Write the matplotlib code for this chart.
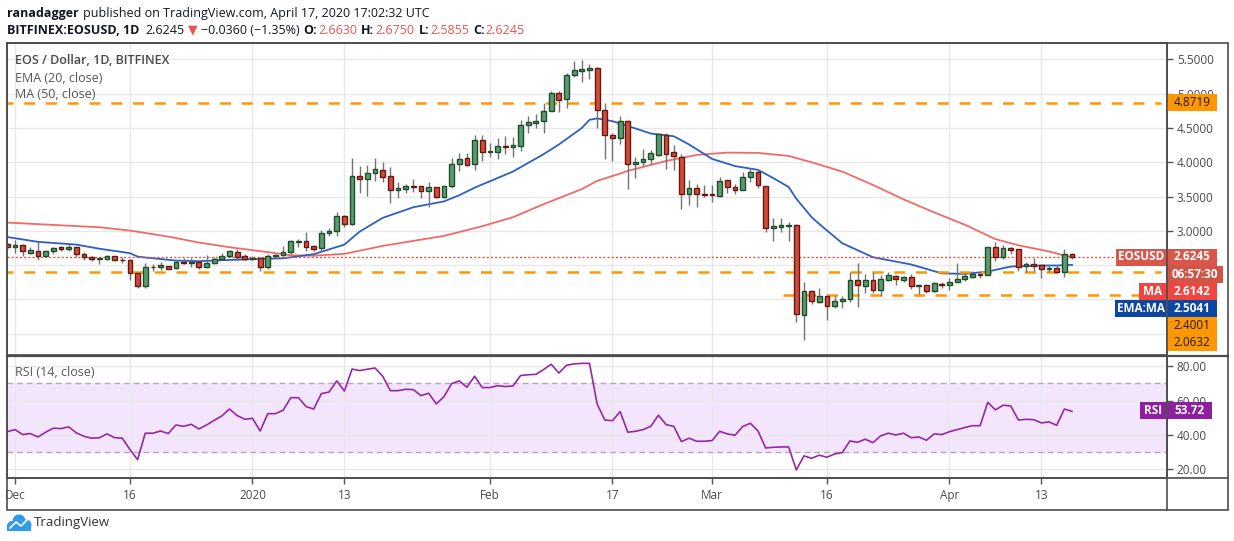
import matplotlib
matplotlib.use("Agg")
import matplotlib.pyplot as plt
import matplotlib.dates as mdates
import matplotlib.ticker as mticker
from matplotlib.patches import Rectangle, Circle
import numpy as np
import pandas as pd

plt.rcParams["font.family"] = ["Open Sans", "DejaVu Sans"]

# ---- data: EOS/USD daily, Bitfinex, 2019-11-30 .. 2020-04-17 ----
opens = [2.81,
    2.76, 2.79, 2.68, 2.70, 2.64, 2.70, 2.76, 2.73, 2.76, 2.67, 2.62, 2.59, 2.59, 2.63, 2.58, 2.57,
    2.38, 2.20, 2.48, 2.47, 2.49, 2.46, 2.55, 2.53, 2.55, 2.48, 2.53, 2.59, 2.63, 2.69, 2.64,
    2.59, 2.61, 2.47, 2.64, 2.65, 2.69, 2.845, 2.85, 2.776, 2.747, 2.976, 2.995, 3.214, 3.107, 3.797, 3.763,
    3.840, 3.884, 3.797, 3.603, 3.617, 3.651, 3.651, 3.578, 3.636, 3.491, 3.651, 3.972, 4.059, 3.972, 4.322,
    4.157, 4.157, 4.239, 4.220, 4.234, 4.540, 4.579, 4.599, 4.754, 5.007, 4.919, 5.269, 5.337, 5.352, 5.371,
    4.759, 4.395, 4.361, 4.599, 3.972, 4.001, 4.054, 4.113, 4.395, 4.147, 4.074, 3.535, 3.622, 3.535,
    3.540, 3.510, 3.738, 3.641, 3.603, 3.782, 3.855, 3.651, 3.048, 3.063, 3.078, 3.082, 1.771, 2.120, 1.970, 2.052,
    1.902, 1.975, 2.004, 2.281, 2.193, 2.281, 2.135, 2.291, 2.339, 2.291, 2.325, 2.193, 2.208, 2.121, 2.227,
    2.208, 2.261, 2.295, 2.334, 2.373, 2.354, 2.762, 2.621, 2.747, 2.733, 2.490, 2.514, 2.500, 2.441, 2.456, 2.397, 2.663]
highs = [2.84,
    2.87, 2.81, 2.76, 2.84, 2.72, 2.77, 2.78, 2.81, 2.77, 2.69, 2.64, 2.61, 2.65, 2.64, 2.62, 2.59,
    2.39, 2.53, 2.51, 2.55, 2.49, 2.57, 2.61, 2.60, 2.57, 2.65, 2.62, 2.68, 2.72, 2.73, 2.66,
    2.64, 2.62, 2.66, 2.67, 2.78, 2.87, 2.88, 2.985, 2.796, 3.015, 3.039, 3.282, 3.233, 4.059, 3.952, 3.962,
    4.059, 4.010, 3.928, 3.714, 3.690, 3.758, 3.655, 3.714, 3.640, 3.670, 4.059, 4.132, 4.132, 4.399, 4.399,
    4.278, 4.351, 4.385, 4.375, 4.613, 4.676, 4.701, 4.861, 5.041, 5.041, 5.308, 5.483, 5.498, 5.430, 5.396,
    4.861, 4.428, 4.676, 4.618, 4.079, 4.190, 4.176, 4.410, 4.424, 4.254, 4.118, 3.743, 3.680, 3.670,
    3.670, 3.787, 3.740, 3.680, 3.860, 3.923, 3.889, 3.655, 3.185, 3.185, 3.126, 3.107, 2.252, 2.135, 2.169, 2.072,
    2.057, 2.048, 2.402, 2.529, 2.373, 2.397, 2.358, 2.407, 2.358, 2.344, 2.373, 2.232, 2.223, 2.252, 2.252,
    2.320, 2.529, 2.368, 2.417, 2.383, 2.772, 2.840, 2.796, 2.767, 2.740, 2.548, 2.606, 2.500, 2.495, 2.505, 2.738, 2.675]
lows = [2.72,
    2.68, 2.64, 2.66, 2.57, 2.63, 2.67, 2.71, 2.71, 2.62, 2.57, 2.56, 2.51, 2.58, 2.56, 2.53, 2.28,
    2.16, 2.16, 2.41, 2.43, 2.44, 2.44, 2.51, 2.48, 2.45, 2.46, 2.52, 2.57, 2.62, 2.59, 2.58,
    2.58, 2.42, 2.44, 2.61, 2.63, 2.67, 2.76, 2.70, 2.70, 2.70, 2.927, 2.927, 3.063, 3.09, 3.554, 3.510,
    3.729, 3.719, 3.413, 3.486, 3.559, 3.564, 3.486, 3.355, 3.480, 3.480, 3.630, 3.879, 3.952, 3.894, 4.020,
    4.083, 4.054, 4.122, 4.074, 4.171, 4.433, 4.497, 4.433, 4.750, 4.740, 4.798, 5.250, 5.177, 5.216, 4.506,
    4.054, 4.020, 4.263, 3.617, 3.777, 3.952, 3.981, 4.098, 3.909, 3.889, 3.325, 3.379, 3.355, 3.501,
    3.428, 3.496, 3.559, 3.535, 3.600, 3.714, 3.632, 2.990, 2.859, 2.990, 2.859, 1.678, 1.416, 1.941, 1.946, 1.702,
    1.872, 1.873, 1.970, 1.897, 2.101, 2.091, 2.057, 2.276, 2.213, 2.261, 2.150, 2.086, 2.101, 2.111, 2.174,
    2.135, 2.252, 2.271, 2.320, 2.320, 2.350, 2.563, 2.592, 2.660, 2.417, 2.407, 2.417, 2.320, 2.397, 2.390, 2.334, 2.5855]
closes = [2.76,
    2.79, 2.70, 2.72, 2.64, 2.71, 2.75, 2.73, 2.77, 2.67, 2.62, 2.59, 2.60, 2.63, 2.57, 2.57, 2.38,
    2.20, 2.47, 2.47, 2.50, 2.45, 2.55, 2.53, 2.55, 2.48, 2.53, 2.59, 2.64, 2.71, 2.62, 2.59,
    2.61, 2.47, 2.64, 2.65, 2.69, 2.85, 2.855, 2.77, 2.742, 2.966, 2.995, 3.214, 3.107, 3.797, 3.763, 3.845,
    3.899, 3.792, 3.603, 3.622, 3.651, 3.641, 3.578, 3.636, 3.491, 3.651, 3.972, 4.045, 3.962, 4.322, 4.157,
    4.166, 4.234, 4.220, 4.254, 4.540, 4.584, 4.599, 4.754, 5.007, 4.905, 5.269, 5.347, 5.357, 5.371, 4.759,
    4.395, 4.361, 4.599, 3.972, 4.001, 4.045, 4.132, 4.409, 4.127, 4.088, 3.535, 3.622, 3.535, 3.520,
    3.530, 3.724, 3.636, 3.603, 3.782, 3.855, 3.666, 3.048, 3.068, 3.082, 3.087, 1.785, 2.120, 1.975, 2.052, 1.902,
    1.980, 2.009, 2.281, 2.208, 2.281, 2.135, 2.295, 2.354, 2.295, 2.325, 2.189, 2.208, 2.125, 2.237, 2.208,
    2.261, 2.300, 2.344, 2.373, 2.358, 2.762, 2.626, 2.747, 2.728, 2.480, 2.514, 2.490, 2.441, 2.461, 2.397, 2.6605, 2.6245]
rsi = [41.9,
    43.1, 40.2, 40.8, 38.8, 41.6, 43.9, 43.7, 44.7, 41.2, 39.2, 38.1, 38.3, 40.6, 38.4, 38.1, 31.5,
    25.6, 41.0, 41.0, 42.3, 40.8, 45.8, 45.0, 46.2, 43.5, 45.8, 48.5, 51.1, 55.1, 51.3, 49.1,
    49.7, 42.3, 52.4, 52.4, 54.4, 61.7, 61.7, 56.5, 55.1, 64.1, 65.0, 71.5, 65.6, 78.4, 77.5, 78.3,
    79.0, 74.2, 65.8, 65.8, 66.6, 66.4, 62.9, 64.3, 58.1, 62.3, 69.9, 71.5, 67.8, 74.2, 67.6,
    67.6, 68.7, 68.2, 68.5, 74.6, 75.1, 75.3, 78.1, 81.2, 76.1, 80.6, 81.4, 81.7, 81.7, 58.0,
    48.7, 48.3, 53.6, 41.6, 42.1, 43.1, 45.0, 51.5, 46.0, 45.0, 36.1, 38.1, 36.3, 36.3,
    36.7, 42.1, 40.6, 39.8, 44.9, 46.8, 42.3, 32.4, 32.8, 33.0, 33.0, 19.6, 27.8, 26.4, 28.2, 27.0,
    28.9, 29.7, 36.5, 35.7, 37.5, 35.5, 39.4, 41.0, 40.0, 41.0, 38.4, 38.8, 36.9, 40.6, 40.2,
    41.9, 43.1, 44.3, 45.4, 45.4, 59.0, 54.6, 57.3, 56.9, 48.7, 49.1, 48.9, 47.0, 47.6, 45.6, 55.1, 53.72]

ema_dates = ["2019-11-30", "2019-12-04", "2019-12-09", "2019-12-12", "2019-12-16", "2019-12-17", "2019-12-18",
    "2019-12-22", "2019-12-25", "2019-12-28", "2020-01-01", "2020-01-05", "2020-01-09", "2020-01-13",
    "2020-01-15", "2020-01-18", "2020-01-22", "2020-01-26", "2020-01-28", "2020-01-30", "2020-02-04",
    "2020-02-08", "2020-02-10", "2020-02-13", "2020-02-14", "2020-02-15", "2020-02-17", "2020-02-19",
    "2020-02-22", "2020-02-25", "2020-02-27", "2020-03-01", "2020-03-04", "2020-03-07", "2020-03-09",
    "2020-03-11", "2020-03-12", "2020-03-14", "2020-03-15", "2020-03-18", "2020-03-22", "2020-03-27",
    "2020-03-31", "2020-04-03", "2020-04-06", "2020-04-09", "2020-04-13", "2020-04-15", "2020-04-17"]
ema_vals = [2.91, 2.84, 2.80, 2.74, 2.675, 2.625, 2.612,
    2.567, 2.558, 2.572, 2.587, 2.60, 2.66, 2.80,
    2.99, 3.19, 3.345, 3.43, 3.52, 3.63, 3.865,
    4.118, 4.26, 4.50, 4.62, 4.64, 4.60, 4.53,
    4.42, 4.38, 4.26, 4.05, 3.945, 3.89, 3.77,
    3.64, 3.47, 3.20, 3.10, 2.82, 2.616, 2.51,
    2.38, 2.373, 2.407, 2.48, 2.495, 2.495, 2.5041]
ma_dates = ["2019-11-30", "2019-12-12", "2019-12-16", "2019-12-21", "2019-12-25", "2019-12-29", "2020-01-03",
    "2020-01-06", "2020-01-09", "2020-01-13", "2020-01-18", "2020-01-22", "2020-01-26", "2020-01-31",
    "2020-02-04", "2020-02-08", "2020-02-13", "2020-02-15", "2020-02-18", "2020-02-19", "2020-02-24",
    "2020-02-28", "2020-03-03", "2020-03-07", "2020-03-11", "2020-03-14", "2020-03-18", "2020-03-22",
    "2020-03-26", "2020-03-30", "2020-04-03", "2020-04-07", "2020-04-10", "2020-04-14", "2020-04-16",
    "2020-04-17"]
ma_vals = [3.121, 3.053, 3.005, 2.917, 2.830, 2.762, 2.69,
    2.645, 2.638, 2.665, 2.781, 2.854, 2.927, 3.068,
    3.199, 3.389, 3.61, 3.73, 3.836, 3.875, 4.02,
    4.108, 4.142, 4.137, 4.093, 4.001, 3.865, 3.67,
    3.46, 3.27, 3.09, 2.88, 2.79, 2.70, 2.64,
    2.6142]

levels = [4.8719, 2.4001, 2.0632]
level_from = ["2019-11-29", "2019-11-29", "2020-03-10"]

tick_dates = ["2019-12-01", "2019-12-16", "2020-01-01", "2020-01-13", "2020-02-01",
              "2020-02-17", "2020-03-01", "2020-03-16", "2020-04-01", "2020-04-13"]
tick_labels = ["Dec", "16", "2020", "13", "Feb", "17", "Mar", "16", "Apr", "13"]

# ---- look ----
UPF, UPE = "#5a9c6e", "#1d4d2c"
DNF, DNE = "#d24b3b", "#621a10"
WICK = "#737373"
EMA_C, MA_C = "#2c5fc4", "#f05a55"
ORANGE = "#ff9800"
PURPLE = "#9527a8"
GRID = "#e8e8e8"
FRAME = "#4d4d4d"
TXT = "#4a4a4a"

W, H = 1234, 541
fig = plt.figure(figsize=(W / 100, H / 100), dpi=100)
fig.patch.set_facecolor("white")

def rect(x0, y0, x1, y1):
    return [x0 / W, 1 - y1 / H, (x1 - x0) / W, (y1 - y0) / H]

ax = fig.add_axes(rect(7, 43, 1167, 355))
axr = fig.add_axes(rect(7, 356, 1167, 478), sharex=ax)

dates = pd.date_range("2019-11-30", periods=len(closes), freq="D")
xd = mdates.date2num(dates)
o, h, l, c = (np.array(v) for v in (opens, highs, lows, closes))
up = c >= o
body = np.maximum(np.abs(c - o), 0.008)
bot = np.minimum(o, c)

ax.vlines(xd, l, h, color=WICK, lw=1, zorder=3)
ax.bar(xd[up], body[up], bottom=bot[up], width=0.62, color=UPF, edgecolor=UPE, linewidth=1, zorder=4)
ax.bar(xd[~up], body[~up], bottom=bot[~up], width=0.62, color=DNF, edgecolor=DNE, linewidth=1, zorder=4)

ax.plot(mdates.date2num(pd.to_datetime(ma_dates)), ma_vals, color=MA_C, lw=1.3, alpha=0.9, zorder=2)
ax.plot(mdates.date2num(pd.to_datetime(ema_dates)), ema_vals, color=EMA_C, lw=1.3, zorder=2)

x_left = mdates.date2num(pd.Timestamp("2019-11-30")) - 0.05
x_right = mdates.date2num(pd.Timestamp("2020-04-29")) + 0.4
for lv, start in zip(levels, level_from):
    ax.hlines(lv, mdates.date2num(pd.Timestamp(start)) + 0.3, x_right - 0.8, color=ORANGE,
              lw=1.8, linestyles=(0, (4.4, 4.3)), zorder=2.5)
ax.axhline(closes[-1], color="#d9574a", lw=1, ls=(0, (1.5, 1.5)), zorder=2)

# labels of 1.5 / 2.0 / 2.5 sit under the value tags in the original, so leave them blank
def price_fmt(v, pos):
    return "" if v < 2.9 else f"{v:.4f}"

ax.set_xlim(x_left, x_right)
ax.set_ylim(1.19, 5.74)
ax.set_yticks(np.arange(1.5, 5.51, 0.5))
ax.yaxis.set_major_formatter(mticker.FuncFormatter(price_fmt))
ax.yaxis.tick_right()
ax.tick_params(axis="y", length=4, width=1, color="#555555", labelsize=8.5, labelcolor=TXT, pad=3)
ax.tick_params(axis="x", length=0, labelbottom=False)
ax.grid(True, color=GRID, lw=1)
ax.set_axisbelow(True)

axr.axhspan(30, 70, color="#f3e6fc", zorder=0)
for lv in (30, 70):
    axr.axhline(lv, color="#b4a8b8", lw=1, ls=(0, (4, 3)), zorder=1)
axr.plot(xd, rsi, color=PURPLE, lw=1.2, zorder=3)
axr.set_ylim(14.9, 86.0)
axr.set_yticks([20, 40, 60, 80])
axr.yaxis.set_major_formatter(mticker.FormatStrFormatter("%.2f"))
axr.yaxis.tick_right()
axr.tick_params(axis="y", length=4, width=1, color="#555555", labelsize=8.5, labelcolor=TXT, pad=3)
axr.xaxis.set_major_locator(mticker.FixedLocator(mdates.date2num(pd.to_datetime(tick_dates))))
axr.xaxis.set_major_formatter(mticker.FixedFormatter(tick_labels))
axr.tick_params(axis="x", length=4, width=1, color="#555555", labelsize=8.5, labelcolor=TXT, pad=4)
axr.grid(True, color=GRID, lw=1)
axr.set_axisbelow(True)

for a in (ax, axr):
    for s in a.spines.values():
        s.set_color(FRAME)
        s.set_linewidth(1.2)
axr.spines["top"].set_visible(False)

# in-chart legends
ax.text(8 / 1160, 1 - 17 / 312, "EOS / Dollar, 1D, BITFINEX", transform=ax.transAxes, fontsize=9,
        color=TXT, fontweight="semibold", va="center")
ax.text(8 / 1160, 1 - 35 / 312, "EMA (20, close)", transform=ax.transAxes, fontsize=9, color="#555555", va="center")
ax.text(8 / 1160, 1 - 52 / 312, "MA (50, close)", transform=ax.transAxes, fontsize=9, color="#555555", va="center")
axr.text(8 / 1160, 1 - 17 / 122, "RSI (14, close)", transform=axr.transAxes, fontsize=9, color="#555555", va="center")

# overlay in pixel coordinates: frame, value labels, header, logo
ov = fig.add_axes([0, 0, 1, 1], zorder=10)
ov.set_xlim(0, W)
ov.set_ylim(H, 0)
ov.axis("off")
ov.patch.set_alpha(0)

ov.add_patch(Rectangle((7, 43), 1221, 467, fill=False, ec=FRAME, lw=1.2))
ov.plot([7, 1228], [355.5, 355.5], color=FRAME, lw=1.6)
ov.plot([7, 1228], [478, 478], color=FRAME, lw=1.2)
ov.plot([1167, 1167], [43, 510], color=FRAME, lw=1.2)

def tag(x0, x1, yc, fc, text, tc="white", bold=True):
    ov.add_patch(Rectangle((x0, yc - 8.5), x1 - x0, 17, fc=fc, ec="none"))
    ov.text((x0 + x1) / 2, yc, text, color=tc, fontsize=8.5, ha="center", va="center",
            fontweight="bold" if bold else "normal")

RED_TAG = "#d9574a"
tag(1167, 1217, 102, ORANGE, f"{levels[0]:.4f}", "#1a1a1a", False)
tag(1116, 1166, 257, RED_TAG, "EOSUSD")
tag(1167, 1217, 257, RED_TAG, f"{closes[-1]:.4f}")
tag(1167, 1223, 274.5, "#d05547", "06:57:30")
tag(1139, 1166, 291.5, "#f0463f", "MA")
tag(1167, 1217, 291.5, "#f0463f", f"{ma_vals[-1]:.4f}")
tag(1115, 1166, 308.5, "#0d47a1", "EMA:MA")
tag(1167, 1217, 308.5, "#0d47a1", f"{ema_vals[-1]:.4f}")
tag(1167, 1217, 325.5, ORANGE, f"{levels[1]:.4f}", "#1a1a1a", False)
tag(1167, 1217, 342.5, ORANGE, f"{levels[2]:.4f}", "#1a1a1a", False)
tag(1140, 1166, 410, "#8e1f9e", "RSI")
tag(1167, 1212, 410, "#8e1f9e", f"{rsi[-1]:.2f}")

# header
renderer = fig.canvas.get_renderer()

def seq(x, y, parts, size=9):
    for s, col, wt, gap in parts:
        t = ov.text(x, y, s, color=col, fontsize=size, fontweight=wt, va="center", ha="left",
                    family=["Open Sans", "DejaVu Sans"])
        x += t.get_window_extent(renderer=renderer).width + gap

HD = "#131722"
HR = "#ef5350"
chg = closes[-1] - closes[-2]
seq(7, 13, [("ranadagger", HD, "bold", 4),
            ("published on TradingView.com, April 17, 2020 17:02:32 UTC", HD, "normal", 0)])
seq(7, 30, [("BITFINEX:EOSUSD, 1D", HD, "bold", 6),
            (f"{closes[-1]:.4f}", HD, "normal", 3),
            ("\u25bc", HR, "normal", 4),
            (f"\u2212{abs(chg):.4f} (\u2212{abs(chg) / closes[-2] * 100:.2f}%)", HD, "normal", 4),
            ("O:", HD, "bold", 1), (f"{opens[-1]:.4f}", HR, "normal", 4),
            ("H:", HD, "bold", 1), (f"{highs[-1]:.4f}", HR, "normal", 4),
            ("L:", HD, "bold", 1), (f"{lows[-1]:.4f}", HR, "normal", 4),
            ("C:", HD, "bold", 1), (f"{closes[-1]:.4f}", HR, "normal", 0)])

# logo
LOGO = "#2f9bea"
for cx, cy, r in [(12, 526, 5), (19, 521, 6.5), (26, 525, 5.5)]:
    ov.add_patch(Circle((cx, cy), r, fc=LOGO, ec="none"))
ov.add_patch(Rectangle((7, 525), 24, 6, fc=LOGO, ec="none"))
ov.plot([10, 16, 21, 27], [528, 522, 526, 520], color="white", lw=1.2)
ov.text(34, 522.5, "TradingView", fontsize=9.5, color="#333333", va="center", ha="left")

fig.savefig("out.png", dpi=100, facecolor="white")
